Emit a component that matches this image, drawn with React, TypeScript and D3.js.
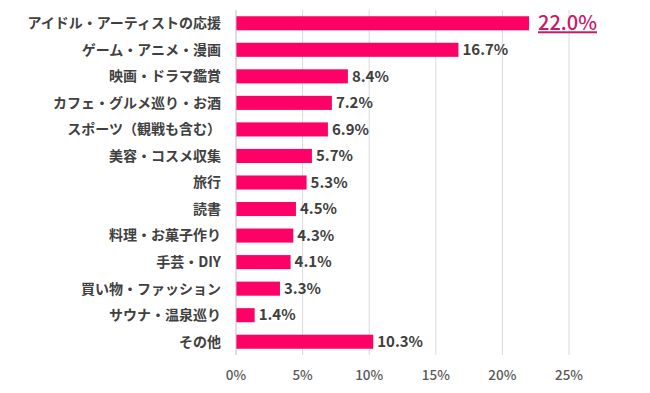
import React, { useEffect, useRef } from "react";
import * as d3 from "d3";

const categories = [
  "アイドル・アーティストの応援",
  "ゲーム・アニメ・漫画",
  "映画・ドラマ鑑賞",
  "カフェ・グルメ巡り・お酒",
  "スポーツ（観戦も含む）",
  "美容・コスメ収集",
  "旅行",
  "読書",
  "料理・お菓子作り",
  "手芸・DIY",
  "買い物・ファッション",
  "サウナ・温泉巡り",
  "その他",
];
const values = [22.0, 16.7, 8.4, 7.2, 6.9, 5.7, 5.3, 4.5, 4.3, 4.1, 3.3, 1.4, 10.3];
const ticks = [0, 5, 10, 15, 20, 25];

const FONT = "'Noto Sans CJK JP', 'Noto Sans', sans-serif";

export default function App() {
  const ref = useRef<SVGSVGElement>(null);

  useEffect(() => {
    const svg = d3.select(ref.current);
    svg.selectAll("*").remove();

    const margin = { top: 10, left: 236, right: 81, bottom: 38 };
    const width = 650 - margin.left - margin.right;
    const height = 393 - margin.top - margin.bottom;

    const x = d3.scaleLinear().domain([0, 25]).range([0, width]);
    const y = d3
      .scaleBand()
      .domain(categories)
      .range([0, height])
      .paddingInner(0.47)
      .paddingOuter(0.235);

    const g = svg.append("g").attr("transform", `translate(${margin.left},${margin.top})`);

    // gridlines
    g.selectAll("line.grid")
      .data(ticks.slice(1))
      .join("line")
      .attr("class", "grid")
      .attr("x1", (d) => x(d))
      .attr("x2", (d) => x(d))
      .attr("y1", 0)
      .attr("y2", height)
      .attr("stroke", "#d9d9d9")
      .attr("stroke-width", 1);

    // tick labels
    g.selectAll("text.tick")
      .data(ticks)
      .join("text")
      .attr("class", "tick")
      .attr("x", (d) => x(d))
      .attr("y", height + 20)
      .attr("dy", "0.35em")
      .attr("text-anchor", "middle")
      .attr("fill", "#595959")
      .style("font-family", FONT)
      .style("font-size", "13.5px")
      .style("font-weight", 500)
      .text((d) => d + "%");

    // bars
    g.selectAll("rect.bar")
      .data(values)
      .join("rect")
      .attr("class", "bar")
      .attr("x", 0)
      .attr("y", (d, i) => y(categories[i])!)
      .attr("width", (d) => x(d))
      .attr("height", y.bandwidth())
      .attr("fill", "#ff0066");

    // zero axis line
    g.append("line")
      .attr("x1", 0)
      .attr("x2", 0)
      .attr("y1", 0)
      .attr("y2", height)
      .attr("stroke", "#bfbfbf");

    // category labels
    g.selectAll("text.cat")
      .data(categories)
      .join("text")
      .attr("class", "cat")
      .attr("x", -15)
      .attr("y", (d) => y(d)! + y.bandwidth() / 2)
      .attr("dy", "0.35em")
      .attr("text-anchor", "end")
      .attr("fill", "#404040")
      .style("font-family", FONT)
      .style("font-size", "14px")
      .style("font-weight", 700)
      .text((d) => d);

    // value labels
    g.selectAll("text.val")
      .data(values)
      .join("text")
      .attr("class", "val")
      .attr("x", (d, i) => x(d) + (i === 0 ? 9 : 4))
      .attr("y", (d, i) => y(categories[i])! + y.bandwidth() / 2)
      .attr("dy", "0.35em")
      .attr("fill", (d, i) => (i === 0 ? "#c8196b" : "#404040"))
      .style("font-family", FONT)
      .style("font-size", (d, i) => (i === 0 ? "20px" : "15px"))
      .style("font-weight", (d, i) => (i === 0 ? 500 : 700))
      .style("text-decoration", (d, i) => (i === 0 ? "underline" : "none"))
      .text((d) => d.toFixed(1) + "%");
  }, []);

  return (
    <svg
      ref={ref}
      width={650}
      height={393}
      style={{ position: "absolute", left: 0, top: 0, background: "#fff" }}
    />
  );
}
